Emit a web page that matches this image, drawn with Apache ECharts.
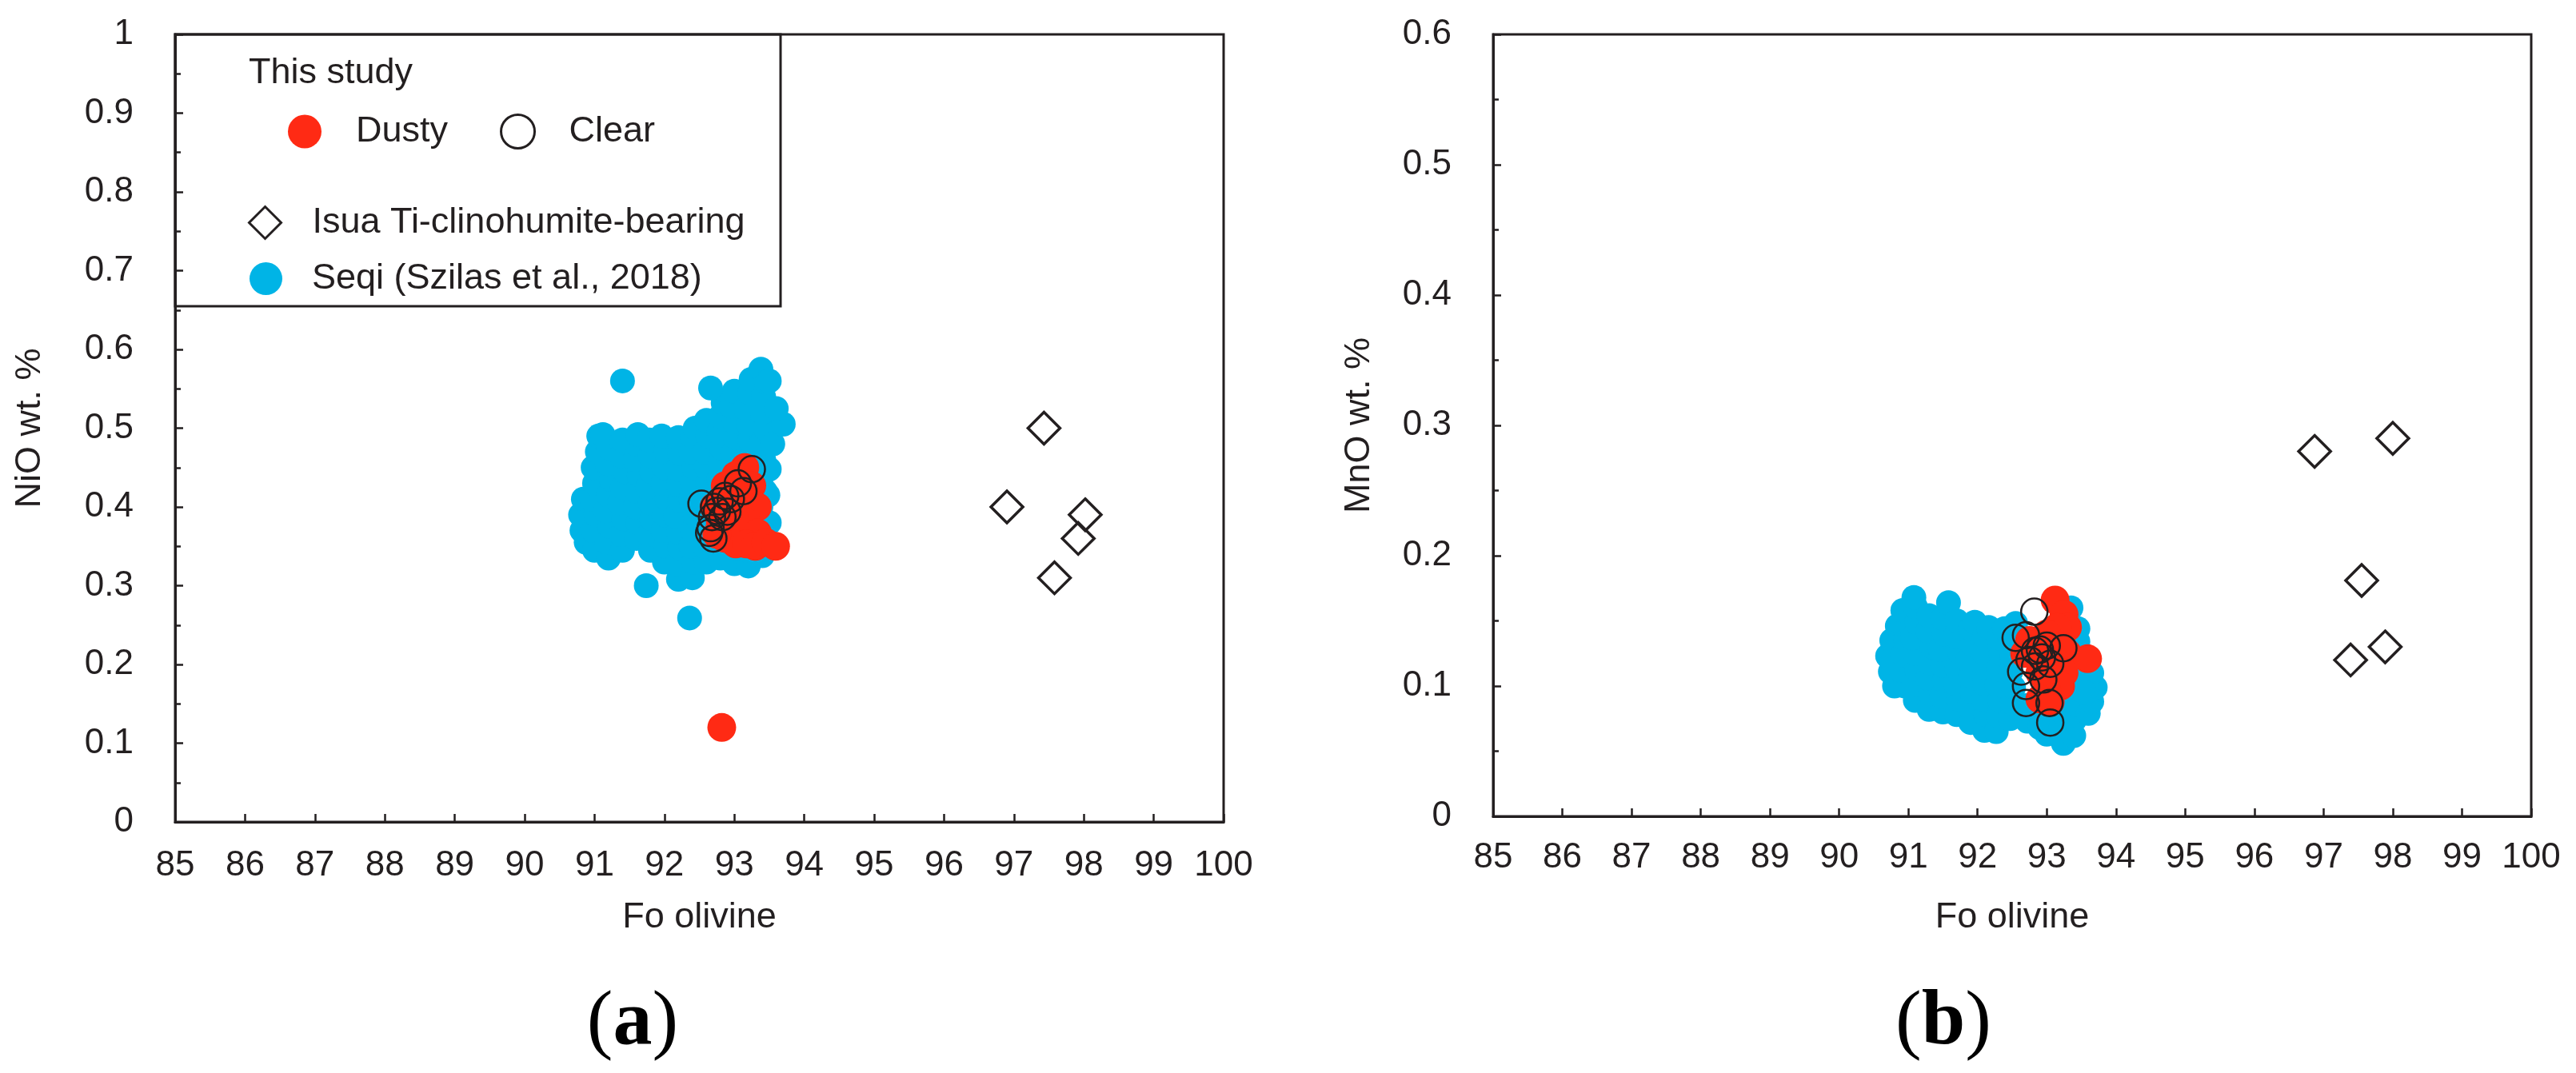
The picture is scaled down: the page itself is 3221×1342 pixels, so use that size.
<!DOCTYPE html>
<html>
<head>
<meta charset="utf-8">
<title>Fo olivine vs NiO / MnO</title>
<script src="https://cdn.jsdelivr.net/npm/echarts@6/dist/echarts.min.js"></script>
<style>
  html, body { margin: 0; padding: 0; background: #fff; }
  #chart { width: 3221px; height: 1342px; }
</style>
</head>
<body>
<div id="chart"></div>
<script>
// --- data: [Fo, oxide wt.%] ---
var seqiNiO = [
  [90.82, 0.37], [90.8, 0.39], [90.84, 0.41], [90.88, 0.355],
  [91.0, 0.345], [90.98, 0.37], [91.02, 0.39], [90.96, 0.41], [91.0, 0.43], [90.98, 0.45], [91.04, 0.47], [91.06, 0.49],
  [91.2, 0.335], [91.18, 0.355], [91.22, 0.375], [91.16, 0.395], [91.2, 0.415], [91.24, 0.435], [91.18, 0.455], [91.2, 0.475], [91.12, 0.492],
  [91.4, 0.345], [91.38, 0.365], [91.42, 0.385], [91.36, 0.405], [91.4, 0.425], [91.44, 0.445], [91.38, 0.465], [91.4, 0.485],
  [91.6, 0.36], [91.62, 0.38], [91.58, 0.40], [91.6, 0.42], [91.64, 0.44], [91.58, 0.46], [91.6, 0.48], [91.62, 0.492],
  [91.8, 0.345], [91.78, 0.365], [91.82, 0.385], [91.8, 0.405], [91.76, 0.425], [91.82, 0.445], [91.8, 0.465], [91.78, 0.485],
  [92.0, 0.33], [92.02, 0.35], [91.98, 0.37], [92.0, 0.39], [92.04, 0.41], [91.98, 0.43], [92.0, 0.45], [92.02, 0.47], [91.96, 0.49],
  [92.2, 0.308], [92.18, 0.328], [92.22, 0.348], [92.2, 0.368], [92.16, 0.388], [92.22, 0.408], [92.2, 0.428], [92.18, 0.448], [92.22, 0.468], [92.2, 0.488],
  [92.4, 0.31], [92.42, 0.33], [92.38, 0.35], [92.4, 0.37], [92.44, 0.39], [92.38, 0.41], [92.4, 0.43], [92.42, 0.45], [92.38, 0.47], [92.4, 0.49], [92.44, 0.50],
  [92.6, 0.33], [92.58, 0.35], [92.62, 0.37], [92.6, 0.39], [92.56, 0.41], [92.62, 0.43], [92.6, 0.45], [92.58, 0.47], [92.62, 0.49], [92.6, 0.51],
  [92.8, 0.335], [92.82, 0.355], [92.78, 0.375], [92.8, 0.395], [92.84, 0.415], [92.78, 0.435], [92.8, 0.455], [92.82, 0.475], [92.78, 0.495], [92.8, 0.515], [92.84, 0.532],
  [93.0, 0.328], [92.98, 0.348], [93.02, 0.368], [93.0, 0.388], [92.96, 0.408], [93.02, 0.428], [93.0, 0.448], [92.98, 0.468], [93.02, 0.488], [93.0, 0.508], [92.96, 0.528], [93.0, 0.547],
  [93.2, 0.325], [93.18, 0.345], [93.22, 0.365], [93.2, 0.385], [93.16, 0.405], [93.22, 0.425], [93.2, 0.445], [93.18, 0.465], [93.22, 0.485], [93.2, 0.505], [93.16, 0.525], [93.22, 0.545], [93.24, 0.562],
  [93.4, 0.338], [93.42, 0.36], [93.4, 0.38], [93.38, 0.40], [93.44, 0.42], [93.4, 0.44], [93.42, 0.46], [93.38, 0.48], [93.44, 0.50], [93.4, 0.52], [93.42, 0.54], [93.38, 0.575], [93.46, 0.558],
  [93.5, 0.448], [93.55, 0.48], [93.7, 0.505], [93.6, 0.525], [93.5, 0.56], [93.5, 0.38], [93.48, 0.415],
  [91.4, 0.56], [92.66, 0.551], [91.74, 0.30], [92.36, 0.259]
];
var dustyNiO = [
  [93.15, 0.45], [93.02, 0.44], [93.1, 0.43], [92.87, 0.427], [93.25, 0.427], [93.0, 0.415], [93.33, 0.40],
  [92.71, 0.40], [92.9, 0.40], [93.17, 0.38], [92.8, 0.38], [93.0, 0.385], [93.33, 0.367], [92.87, 0.36],
  [93.02, 0.353], [93.17, 0.353], [92.75, 0.365], [93.3, 0.35], [93.45, 0.355], [93.59, 0.35], [92.82, 0.12]
];
var clearNiO = [
  [93.25, 0.448], [93.05, 0.43], [93.13, 0.42], [92.87, 0.414], [92.79, 0.407], [92.53, 0.404], [92.71, 0.40],
  [92.9, 0.394], [92.68, 0.387], [92.83, 0.387], [92.66, 0.373], [92.64, 0.367], [92.7, 0.36], [92.75, 0.395], [92.95, 0.41]
];
var isuaNiO = [[97.43, 0.50], [96.90, 0.40], [98.02, 0.39], [97.92, 0.36], [97.58, 0.31]];

var seqiMnO = [
  [90.8, 0.10], [90.74, 0.111], [90.7, 0.123], [90.76, 0.135], [90.84, 0.146],
  [90.95, 0.10], [90.9, 0.112], [90.92, 0.124], [90.96, 0.136], [90.9, 0.148], [90.92, 0.158],
  [91.1, 0.089], [91.08, 0.101], [91.12, 0.113], [91.1, 0.125], [91.06, 0.137], [91.12, 0.149], [91.1, 0.161], [91.08, 0.168],
  [91.3, 0.082], [91.32, 0.094], [91.28, 0.106], [91.3, 0.118], [91.34, 0.13], [91.28, 0.142], [91.3, 0.154],
  [91.5, 0.08], [91.48, 0.092], [91.52, 0.104], [91.5, 0.116], [91.46, 0.128], [91.52, 0.14], [91.5, 0.152], [91.58, 0.164],
  [91.7, 0.078], [91.72, 0.09], [91.68, 0.102], [91.7, 0.114], [91.74, 0.126], [91.68, 0.138], [91.7, 0.15],
  [91.9, 0.072], [91.88, 0.084], [91.92, 0.096], [91.9, 0.108], [91.86, 0.12], [91.92, 0.132], [91.9, 0.144], [91.96, 0.149],
  [92.1, 0.066], [92.12, 0.078], [92.08, 0.09], [92.1, 0.102], [92.14, 0.114], [92.08, 0.126], [92.1, 0.138], [92.16, 0.145],
  [92.27, 0.065], [92.3, 0.077], [92.32, 0.089], [92.28, 0.101], [92.3, 0.113], [92.34, 0.125], [92.3, 0.137], [92.39, 0.144],
  [92.47, 0.075], [92.5, 0.087], [92.52, 0.099], [92.48, 0.111], [92.5, 0.123], [92.54, 0.135], [92.55, 0.148],
  [92.72, 0.073], [92.7, 0.085], [92.9, 0.068], [92.88, 0.08], [93.0, 0.063], [93.04, 0.075],
  [93.24, 0.056], [93.2, 0.068], [93.22, 0.08], [93.2, 0.092],
  [93.39, 0.062], [93.4, 0.074], [93.42, 0.086], [93.4, 0.098], [93.44, 0.11], [93.42, 0.122], [93.45, 0.134], [93.45, 0.144], [93.35, 0.16],
  [93.6, 0.079], [93.65, 0.088], [93.7, 0.099], [93.65, 0.11], [93.55, 0.095]
];
var dustyMnO = [
  [93.12, 0.166], [93.25, 0.155], [93.3, 0.145], [93.15, 0.145], [93.0, 0.14], [93.2, 0.13], [93.3, 0.125],
  [92.95, 0.13], [93.1, 0.12], [92.8, 0.125], [93.25, 0.11], [93.1, 0.105], [92.9, 0.11], [93.2, 0.10],
  [93.0, 0.097], [92.9, 0.09], [93.05, 0.088], [93.59, 0.121], [92.75, 0.135], [92.68, 0.125]
];
var clearMnO = [
  [92.82, 0.157], [92.55, 0.137], [92.7, 0.139], [93.24, 0.129], [93.0, 0.131], [92.83, 0.127], [92.63, 0.111],
  [92.83, 0.115], [93.05, 0.117], [92.7, 0.10], [92.7, 0.087], [93.04, 0.087], [93.05, 0.072], [92.9, 0.128],
  [92.93, 0.122], [92.75, 0.12], [92.95, 0.105]
];
var isuaMnO = [[96.87, 0.28], [98.0, 0.29], [97.55, 0.181], [97.39, 0.12], [97.89, 0.13]];

var INK = '#231f20';
var RED = '#ff2a14';
var BLUE = '#00b4e6';
var FONT = 'Liberation Sans, Arial, sans-serif';
var SERIF = 'Liberation Serif, Times New Roman, serif';

var chart = echarts.init(document.getElementById('chart'));

function xAxisFor(grid, nameGap, labelMargin) {
  return {
    type: 'value', gridIndex: grid, min: 85, max: 100, interval: 1,
    name: 'Fo olivine', nameLocation: 'middle', nameGap: nameGap,
    nameTextStyle: { fontFamily: FONT, fontSize: 45, color: INK },
    axisLine: { show: true, onZero: false, lineStyle: { color: INK, width: 3 } },
    axisTick: { show: true, inside: true, length: 10, lineStyle: { color: INK, width: 2.5 } },
    axisLabel: { fontFamily: FONT, fontSize: 44, color: INK, margin: labelMargin },
    splitLine: { show: false }
  };
}
function yAxisFor(grid, max, name, nameGap) {
  return {
    type: 'value', gridIndex: grid, min: 0, max: max, interval: 0.1,
    name: name, nameLocation: 'middle', nameRotate: 90, nameGap: nameGap,
    nameTextStyle: { fontFamily: FONT, fontSize: 45, color: INK },
    axisLine: { show: true, onZero: false, lineStyle: { color: INK, width: 3 } },
    axisTick: { show: true, inside: true, length: 10, lineStyle: { color: INK, width: 2.5 } },
    minorTick: { show: true, splitNumber: 2, length: 7, lineStyle: { color: INK, width: 2.5 } },
    axisLabel: { fontFamily: FONT, fontSize: 44, color: INK, margin: 52 },
    splitLine: { show: false }, minorSplitLine: { show: false }
  };
}

function scatter(name, grid, data, style, symbol, size) {
  return {
    name: name, type: 'scatter', xAxisIndex: grid, yAxisIndex: grid,
    data: data, symbol: symbol, symbolSize: size,
    itemStyle: style, emphasis: { disabled: true }, silent: true
  };
}

var seqiStyle = { color: BLUE, opacity: 1 };
var dustyStyle = { color: RED, opacity: 1 };
var clearStyle = { color: 'rgba(0,0,0,0)', borderColor: INK, borderWidth: 2.5, opacity: 1 };
var isuaStyle = { color: 'rgba(0,0,0,0)', borderColor: INK, borderWidth: 3.5, opacity: 1 };

var legendText = { fontFamily: FONT, fontSize: 45, color: INK };

function panelLabel(letter, x, y) {
  return {
    type: 'text', x: x, y: y, z: 10,
    style: {
      text: '{p|(}{l|' + letter + '}{p|)}', align: 'center', verticalAlign: 'middle',
      rich: {
        p: { fontFamily: SERIF, fontSize: 98, fill: '#000' },
        l: { fontFamily: SERIF, fontSize: 98, fontWeight: 'bold', fill: '#000' }
      }
    }
  };
}

chart.setOption({
  backgroundColor: '#ffffff',
  animation: false,
  grid: [
    { left: 219, top: 43, width: 1311, height: 985, show: true, borderColor: INK, borderWidth: 3, backgroundColor: 'transparent', outerBoundsMode: 'none' },
    { left: 1867, top: 43, width: 1298, height: 978, show: true, borderColor: INK, borderWidth: 3, backgroundColor: 'transparent', outerBoundsMode: 'none' }
  ],
  xAxis: [xAxisFor(0, 97, 33), xAxisFor(1, 104, 30)],
  yAxis: [yAxisFor(0, 1, 'NiO wt. %', 159), yAxisFor(1, 0.6, 'MnO wt. %', 145)],
  legend: [
    {
      left: 360, top: 142, padding: 0, orient: 'horizontal', selectedMode: false,
      itemWidth: 42, itemHeight: 42, itemGap: 65,
      textStyle: Object.assign({ padding: [0, 0, 0, 38] }, legendText),
      data: [
        { name: 'Dusty', icon: 'circle', itemStyle: { color: RED, borderWidth: 0 } },
        { name: 'Clear', icon: 'circle', itemStyle: { color: 'rgba(0,0,0,0)', borderColor: INK, borderWidth: 3 } }
      ]
    },
    {
      left: 310, top: 256, padding: 0, selectedMode: false,
      itemWidth: 40, itemHeight: 40,
      textStyle: Object.assign({ padding: [0, 0, 0, 34] }, legendText),
      data: [
        { name: 'Isua Ti-clinohumite-bearing', icon: 'diamond', itemStyle: { color: 'rgba(0,0,0,0)', borderColor: INK, borderWidth: 3 } }
      ]
    },
    {
      left: 312, top: 326, padding: 0, selectedMode: false,
      itemWidth: 41, itemHeight: 41,
      textStyle: Object.assign({ padding: [0, 0, 0, 32] }, legendText),
      data: [
        { name: 'Seqi (Szilas et al., 2018)', icon: 'circle', itemStyle: { color: BLUE, borderWidth: 0 } }
      ]
    }
  ],
  graphic: [
    { type: 'rect', shape: { x: 219, y: 43, width: 757, height: 340 }, style: { fill: 'none', stroke: INK, lineWidth: 3 }, z: 10 },
    { type: 'text', x: 311, y: 92, style: { text: 'This study', font: '45px ' + FONT, fill: INK, verticalAlign: 'middle' }, z: 10 },
    panelLabel('a', 791, 1280),
    panelLabel('b', 2430, 1280)
  ],
  series: [
    scatter('Seqi (Szilas et al., 2018)', 0, seqiNiO, seqiStyle, 'circle', 31),
    scatter('Dusty', 0, dustyNiO, dustyStyle, 'circle', 36),
    scatter('Clear', 0, clearNiO, clearStyle, 'circle', 33),
    scatter('Isua Ti-clinohumite-bearing', 0, isuaNiO, isuaStyle, 'diamond', 40),
    scatter('Seqi (Szilas et al., 2018)', 1, seqiMnO, seqiStyle, 'circle', 31),
    scatter('Dusty', 1, dustyMnO, dustyStyle, 'circle', 36),
    scatter('Clear', 1, clearMnO, clearStyle, 'circle', 33),
    scatter('Isua Ti-clinohumite-bearing', 1, isuaMnO, isuaStyle, 'diamond', 40)
  ]
});
</script>
</body>
</html>
